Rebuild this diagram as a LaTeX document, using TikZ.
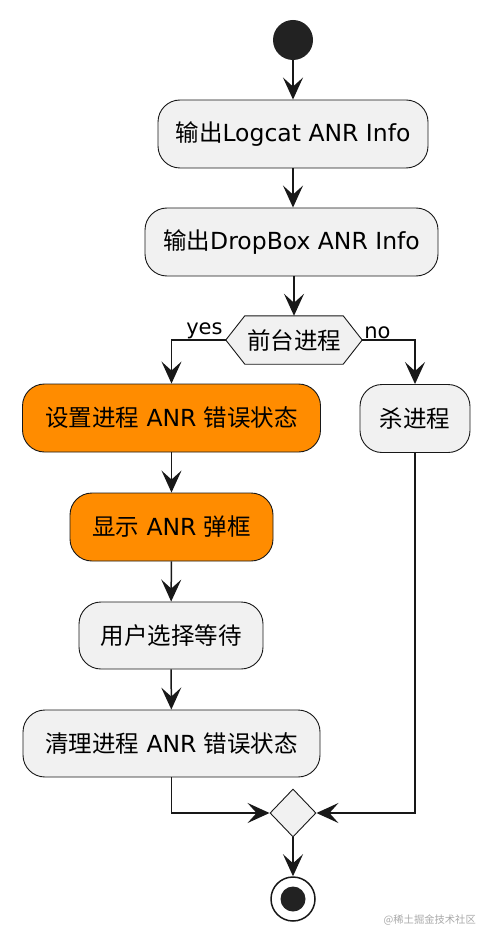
\documentclass[tikz,border=0pt]{standalone}
\usepackage{fontspec}
\setmainfont{DejaVu Sans}
\newfontfamily\cjk{Noto Sans CJK SC}
\usetikzlibrary{arrows.meta,shapes.geometric,backgrounds}
\definecolor{boxfill}{HTML}{F1F1F1}
\definecolor{orangefill}{HTML}{FF8C00}
\definecolor{ink}{HTML}{181818}
\definecolor{darkdot}{HTML}{222222}
\definecolor{wmark}{HTML}{A8A8A8}
\tikzset{
  act/.style={draw=ink, line width=0.9pt, fill=boxfill, rounded corners=22pt,
    minimum height=68pt, inner sep=0pt, font=\fontsize{23.5}{27}\selectfont, text=black},
  hot/.style={act, fill=orangefill},
  flow/.style={draw=ink, line width=1.5pt,
    -{Stealth[length=22pt, width=20pt, inset=9pt]}},
  lbl/.style={font=\fontsize{21}{24}\selectfont, text=black, inner sep=1pt},
}
\begin{document}
\begin{tikzpicture}[x=1pt, y=-1pt]
\useasboundingbox (0,0) rectangle (492,941);
\node[circle, fill=darkdot, minimum size=40pt, inner sep=0pt] (start) at (293,40) {};
\node[act, minimum width=270pt] (b1) at (293,134) {{\cjk 输出}Logcat ANR Info};
\node[act, minimum width=293pt] (b2) at (291.5,242) {{\cjk 输出}DropBox ANR Info};
\node[minimum width=136pt, minimum height=48pt, inner sep=0pt,
  font=\fontsize{23.5}{27}\selectfont] (dec) at (294,340) {\cjk 前台进程};
\begin{scope}[on background layer]
\draw[draw=ink, line width=0.9pt, fill=boxfill]
  (dec.west) -- ([xshift=19pt]dec.north west) -- ([xshift=-19pt]dec.north east)
  -- (dec.east) -- ([xshift=-19pt]dec.south east) -- ([xshift=19pt]dec.south west) -- cycle;
\end{scope}
\node[hot, minimum width=298pt] (b3) at (171.5,418) {{\cjk 设置进程} ANR {\cjk 错误状态}};
\node[act, minimum width=110pt] (kill) at (415,418.5) {\cjk 杀进程};
\node[hot, minimum width=203pt] (b4) at (171.5,527) {{\cjk 显示} ANR {\cjk 弹框}};
\node[act, minimum width=184pt, minimum height=67pt] (b5) at (171,635.5) {\cjk 用户选择等待};
\node[act, minimum width=297pt, minimum height=67pt] (b6) at (171.5,743.5) {{\cjk 清理进程} ANR {\cjk 错误状态}};
\node[diamond, draw=ink, line width=0.9pt, fill=boxfill, minimum width=46pt,
  minimum height=48pt, inner sep=0pt] (merge) at (293,813) {};
\node[circle, draw=ink, line width=1.5pt, fill=white, minimum size=44pt, inner sep=0pt,
  path picture={\fill[darkdot] (path picture bounding box.center) circle (12.5pt);}] (end) at (293,899) {};
\node[lbl, anchor=south east] (yes) at ([xshift=-2pt]dec.west) {yes};
\node[lbl, anchor=south west] (no) at ([xshift=1pt]dec.east) {no};
\node[font=\cjk\fontsize{10.3}{12}\selectfont, text=wmark, anchor=east, inner sep=0pt] (wm) at (476,920) {@稀土掘金技术社区};
\draw[flow] (start) -- (b1);
\draw[flow] (b1) -- (b1 |- b2.north);
\draw[flow] (b2.south -| dec.north) -- (dec.north);
\draw[flow] (dec.west) -| (b3.north);
\draw[flow] (dec.east) -| (kill.north);
\draw[flow] (b3) -- (b4);
\draw[flow] (b4) -- (b5);
\draw[flow] (b5) -- (b6);
\draw[flow] (b6.south) |- (merge.west);
\draw[flow] (kill.south) |- (merge.east);
\draw[flow] (merge.south) -- (end);
\end{tikzpicture}
\end{document}
